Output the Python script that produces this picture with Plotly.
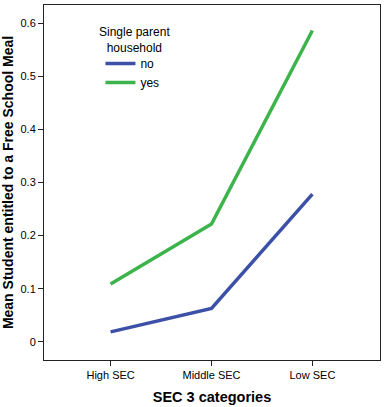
import plotly.graph_objects as go

categories = ["High SEC", "Middle SEC", "Low SEC"]
no_values = [0.019, 0.063, 0.278]
yes_values = [0.109, 0.222, 0.586]
series_names = ["no", "yes"]
y_tickvals = [0, 0.1, 0.2, 0.3, 0.4, 0.5, 0.6]
y_ticktext = ["0", "0.1", "0.2", "0.3", "0.4", "0.5", "0.6"]

FONT = "Liberation Sans, Arial, sans-serif"

fig = go.Figure()
fig.add_trace(go.Scatter(x=categories, y=no_values, mode="lines", name=series_names[0],
                         line=dict(color="#3d50a8", width=3.5)))
fig.add_trace(go.Scatter(x=categories, y=yes_values, mode="lines", name=series_names[1],
                         line=dict(color="#3cb44b", width=3.5)))

fig.update_layout(
    width=385, height=407,
    margin=dict(l=44, r=5, t=5, b=47, autoexpand=False),
    paper_bgcolor="white", plot_bgcolor="white",
    font=dict(family=FONT, size=11, color="black"),
    showlegend=True,
    legend=dict(x=0.168, y=0.876, xanchor="left", yanchor="top",
                bgcolor="rgba(0,0,0,0)", font=dict(size=12, family=FONT),
                tracegroupgap=0, itemwidth=30),
    annotations=[dict(text="Single parent<br>household", x=0.27, y=0.95, xref="paper", yref="paper",
                      xanchor="center", yanchor="top", showarrow=False,
                      font=dict(size=12, family=FONT, color="black"))],
)
fig.update_xaxes(
    type="category", range=[-0.66, 2.67], automargin=False,
    showline=True, mirror=True, linecolor="#222", linewidth=1,
    ticks="outside", ticklen=5, tickcolor="#222", showgrid=False,
    tickfont=dict(size=11),
    title=dict(text="<b>SEC 3 categories</b>", font=dict(size=14.5), standoff=11),
)
fig.update_yaxes(
    range=[-0.034, 0.634], tickvals=y_tickvals, ticktext=y_ticktext, automargin=False,
    showline=True, mirror=True, linecolor="#222", linewidth=1,
    ticks="outside", ticklen=5, tickcolor="#222", showgrid=False, zeroline=False,
    tickfont=dict(size=11),
    title=dict(text="<b>Mean Student entitled to a Free School Meal</b>", font=dict(size=14), standoff=3),
)

fig.write_html("out.html", config={"displayModeBar": False},
               post_script="document.body.style.margin='0';document.body.style.overflow='hidden';")
